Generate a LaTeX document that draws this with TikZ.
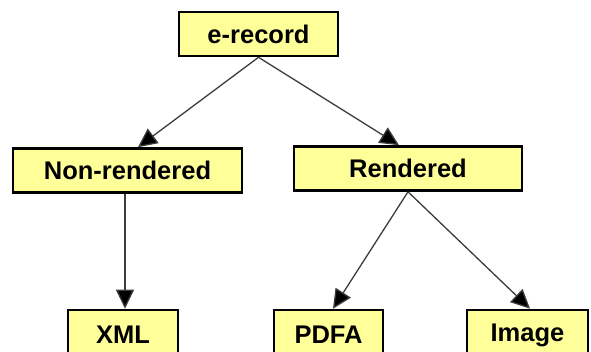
\documentclass[tikz,border=0pt]{standalone}
\usepackage{fontspec}
\setmainfont{Liberation Sans}
\usetikzlibrary{arrows.meta}
\definecolor{boxfill}{HTML}{FFFF99}
\definecolor{linegray}{HTML}{3C3C3C}
\tikzset{
  box/.style={draw=black, line width=2.6pt, fill=boxfill, minimum height=44pt,
    inner sep=0pt, font=\fontsize{25.5}{30}\selectfont\bfseries, text=black},
  arr/.style={draw=linegray, line width=1.3pt, -{Triangle[length=19pt,width=18pt,fill=black]}},
}
\begin{document}
\begin{tikzpicture}[x=1pt,y=-1pt]
\useasboundingbox (0,0) rectangle (591,352);
\node[box, minimum width=159pt] (erec) at (258.5,34) {e-record};
\node[box, minimum width=229pt] (nonr) at (127.5,170.5) {Non-rendered};
\node[box, minimum width=228pt] (rend) at (408,168.5) {Rendered};
\node[box, minimum width=110pt, minimum height=50pt] (xml) at (123,335) {XML};
\node[box, minimum width=109pt, minimum height=50pt] (pdfa) at (328.5,335) {PDFA};
\node[box, minimum width=121pt, minimum height=50pt] (img) at (527.5,335) {Image};
\draw[arr] (erec.south) -- ([xshift=10.5pt]nonr.north);
\draw[arr] (erec.south) -- ([xshift=-9pt]rend.north);
\draw[arr] ([xshift=-2.5pt]nonr.south) -- ([xshift=2pt]xml.north);
\draw[arr] (rend.south) -- ([xshift=4.5pt]pdfa.north);
\draw[arr] (rend.south) -- ([xshift=2.5pt]img.north);
\end{tikzpicture}
\end{document}
